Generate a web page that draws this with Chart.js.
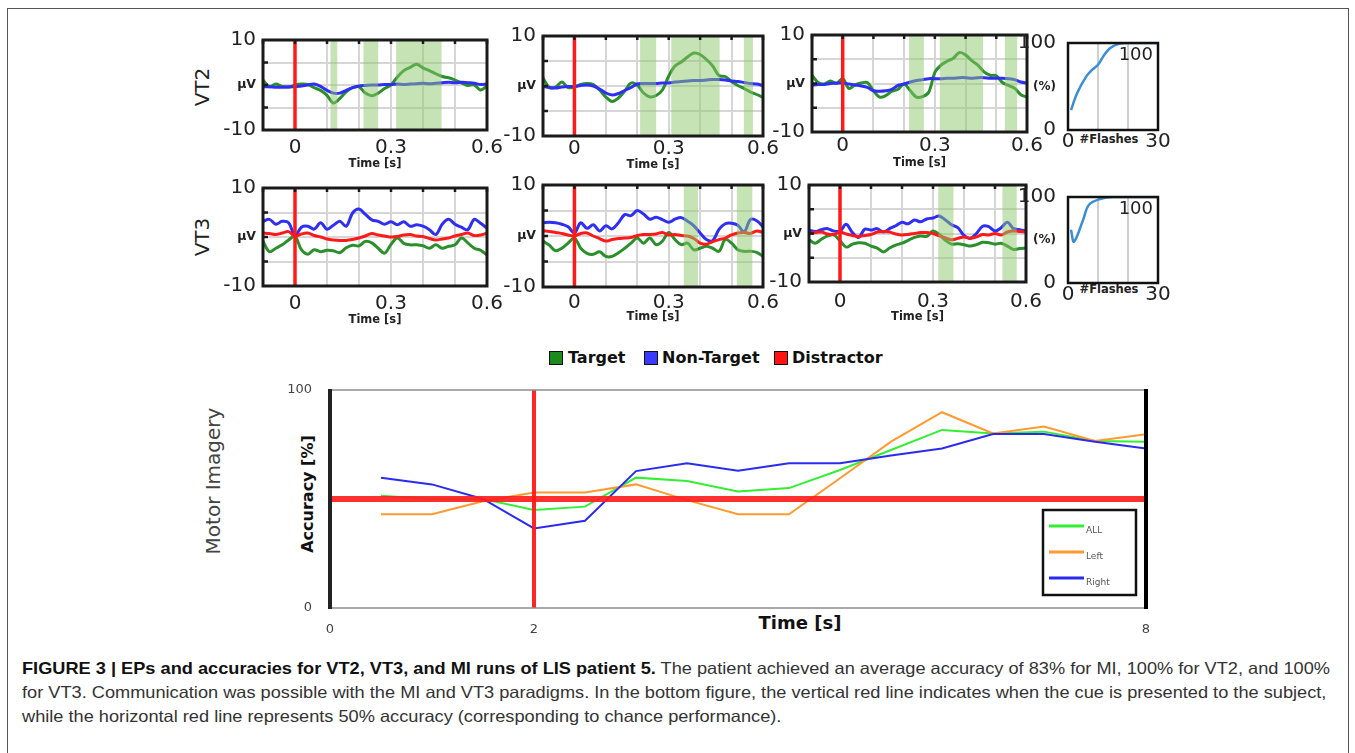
<!DOCTYPE html>
<html>
<head>
<meta charset="utf-8">
<script src="https://cdn.jsdelivr.net/npm/chart.js@4.4.0/dist/chart.umd.min.js"></script>
<style>
  html, body { margin: 0; padding: 0; background: #fff; }
  body { width: 1355px; height: 753px; position: relative; overflow: hidden; font-family: "DejaVu Sans", Verdana, sans-serif; }
  .frame { position: absolute; left: 7px; top: 8px; width: 1340px; height: 800px; border: 1px solid #555; }
  .panel { position: absolute; }
  .lbl { position: absolute; white-space: nowrap; color: #222; }
  .rot { transform: translate(-50%, -50%) rotate(-90deg); }
  .ctr { transform: translate(-50%, -50%); }
  .sq { position: absolute; width: 12px; height: 12px; border: 1.5px solid #111; }
  .leg { position: absolute; font-weight: bold; font-size: 16px; color: #111; white-space: nowrap; }
  .cap { position: absolute; left: 22px; top: 656px; font-family: "Liberation Sans", Arial, sans-serif; font-size: 16.5px; line-height: 24px; color: #333; }
  .cap .ln { display: block; width: max-content; transform-origin: 0 0; white-space: nowrap; }
  .cap b { color: #111; }
</style>
</head>
<body>
<div class="frame"></div>

<div class="lbl rot" style="left:202px;top:87px;font-size:20px;">VT2</div>
<div class="lbl rot" style="left:202px;top:237px;font-size:20px;">VT3</div>
<div class="lbl ctr" style="left:1109px;top:139px;font-size:11.5px;font-weight:bold;">#Flashes</div>
<div class="lbl ctr" style="left:1109px;top:289px;font-size:11.5px;font-weight:bold;">#Flashes</div>

<div class="sq" style="left:549px;top:351px;background:#1d8a1d;"></div>
<div class="leg" style="left:568px;top:348px;">Target</div>
<div class="sq" style="left:644px;top:351px;background:#3a3aff;"></div>
<div class="leg" style="left:662px;top:348px;">Non-Target</div>
<div class="sq" style="left:774px;top:351px;background:#ff1212;"></div>
<div class="leg" style="left:792px;top:348px;">Distractor</div>

<div class="lbl rot" style="left:213px;top:481px;font-size:20px;color:#444;">Motor Imagery</div>
<div class="lbl rot" style="left:307px;top:494px;font-size:16px;font-weight:bold;color:#111;">Accuracy [%]</div>
<div class="lbl ctr" style="left:800px;top:622px;font-size:18px;font-weight:bold;color:#111;">Time [s]</div>

<div class="cap">
  <span class="ln"><b>FIGURE 3 | EPs and accuracies for VT2, VT3, and MI runs of LIS patient 5.</b> The patient achieved an average accuracy of 83% for MI, 100% for VT2, and 100%</span>
  <span class="ln">for VT3. Communication was possible with the MI and VT3 paradigms. In the bottom figure, the vertical red line indicates when the cue is presented to the subject,</span>
  <span class="ln">while the horizontal red line represents 50% accuracy (corresponding to chance performance).</span>
</div>

<script>
// ---- EP time axis (s) ----
var eegTime = [-0.1, -0.08, -0.06, -0.04, -0.02, 0, 0.02, 0.04, 0.06, 0.08, 0.1, 0.12, 0.14, 0.16, 0.18, 0.2, 0.22, 0.24,
               0.26, 0.28, 0.3, 0.32, 0.34, 0.36, 0.38, 0.4, 0.42, 0.44, 0.46, 0.48, 0.5, 0.52, 0.54, 0.56, 0.58, 0.6];
var eegXGrid = [-0.1, 0, 0.1, 0.2, 0.3, 0.4, 0.5, 0.6];
var eegXLabelVals = [0, 0.3, 0.6];
var eegXLabelText = ['0', '0.3', '0.6'];
var eegYGrid = [-10, -5, 0, 5, 10];
var eegYLabelVals = [-10, 0, 10];
var eegYLabelText = ['-10', 'µV', '10'];
var eegCue = 0;

// ---- VT2 runs (µV) ----
var vt2aTarget    = [1.1, -0.4, 0.2, -0.3, -0.5, 0.0, 0.2, 0.1, -0.6, -1.2, -2.3, -4.0, -3.0, -1.5, -0.6, -0.4, -1.8, -2.4,
                     -1.8, -0.8, 0.0, 1.8, 3.2, 3.9, 4.6, 3.8, 3.2, 2.5, 1.9, 1.6, 1.1, 0.5, -0.1, 0.0, -1.1, -0.2];
var vt2aNonTarget = [-0.4, -0.4, -0.5, -0.5, -0.4, -0.4, -0.2, 0.0, 0.2, -0.3, -1.2, -1.8, -1.8, -1.2, -0.6, -0.2, -0.1, 0.0,
                     0.0, 0.1, 0.1, 0.2, 0.1, 0.2, 0.3, 0.4, 0.3, 0.4, 0.5, 0.6, 0.5, 0.6, 0.5, 0.4, 0.1, 0.2];
var vt2aShadeStart = [0.111, 0.214, 0.316];
var vt2aShadeEnd   = [0.132, 0.26, 0.458];

var vt2bTarget    = [1.6, -0.3, -0.2, 0.8, -0.3, -0.2, 0.3, 0.5, 0.3, -0.8, -2.2, -3.1, -2.4, -1.0, 0.6, 0.2, -1.4, -2.2,
                     -1.9, -0.8, 2.0, 4.0, 4.8, 5.8, 6.6, 6.3, 5.3, 4.0, 2.1, 1.9, 0.9, 0.1, -0.5, -1.2, -1.7, -2.3];
var vt2bNonTarget = [-0.1, -0.3, -0.4, -0.2, -0.1, -0.1, 0.1, 0.2, 0.0, -0.6, -1.4, -1.8, -1.5, -0.9, -0.3, 0.4, 0.5, 0.5,
                     0.5, 0.6, 0.6, 0.8, 0.9, 1.0, 1.1, 1.1, 1.2, 1.3, 1.3, 1.2, 1.0, 0.9, 0.7, 0.5, 0.4, 0.1];
var vt2bShadeStart = [0.209, 0.308, 0.539];
var vt2bShadeEnd   = [0.26, 0.462, 0.568];

var vt2cTarget    = [1.7, 0.2, -0.1, 0.5, 0.0, 1.0, -1.0, -0.3, 0.1, 0.2, -1.5, -2.8, -2.5, -1.6, -1.2, -0.1, -1.5, -2.8,
                     -2.7, -1.8, 2.3, 3.8, 4.6, 5.2, 6.4, 5.9, 4.7, 3.8, 2.4, 1.7, 1.6, 0.2, -0.4, -1.0, -2.3, -2.8];
var vt2cNonTarget = [-0.4, -0.2, -0.2, 0.0, 0.1, 0.1, -0.1, -0.3, -0.5, -0.8, -1.5, -1.6, -1.5, -1.2, -0.4, -0.1, 0.3, 0.6,
                     0.8, 1.0, 1.0, 1.0, 1.1, 1.1, 1.2, 1.2, 1.1, 1.2, 1.2, 1.1, 1.1, 1.1, 1.0, 0.8, 0.3, 0.1];
var vt2cShadeStart = [0.216, 0.316, 0.528];
var vt2cShadeEnd   = [0.264, 0.457, 0.568];

// ---- VT3 runs (µV) ----
var vt3aTarget     = [-0.9, -3.0, -2.3, -1.6, -0.6, 0.1, -2.6, -3.5, -2.6, -3.0, -2.7, -2.8, -3.2, -2.2, -1.7, -1.8, -0.9, -1.2,
                      -2.3, -3.3, -1.5, -0.2, -1.3, -1.6, -1.6, -1.8, -2.3, -1.6, -2.3, -1.9, -1.6, -0.2, -1.2, -2.3, -2.7, -3.7];
var vt3aNonTarget  = [3.2, 3.6, 2.6, 3.2, 2.9, 0.3, 2.0, 2.2, 1.6, 2.9, 1.6, 2.4, 3.2, 2.2, 4.9, 5.7, 4.6, 3.5,
                      3.2, 2.6, 3.1, 2.5, 3.1, 2.2, 2.5, 2.2, 1.5, 0.5, 2.6, 3.6, 2.6, 2.0, 1.5, 3.6, 2.8, 1.8];
var vt3aDistractor = [0.8, 0.7, 0.5, 0.8, 1.1, 0.1, 0.6, 0.8, 0.3, 0.0, -0.4, -0.6, -0.7, -0.7, -0.5, -0.2, 0.2, 0.7,
                      0.4, 0.2, 0.0, 0.1, 0.4, 0.5, 0.2, 0.1, -0.3, -0.6, -0.4, -0.2, 0.2, 0.5, 0.8, 0.3, 0.4, 0.8];

var vt3bTarget     = [-1.0, -1.8, -2.9, -2.4, -1.4, -0.4, -2.4, -3.4, -3.6, -3.1, -4.0, -4.0, -3.3, -2.4, -1.4, -0.4, -1.4, -0.4,
                      -1.7, -1.0, 0.7, -0.7, -1.7, -1.4, -2.7, -2.4, -2.0, -2.4, -3.0, -0.7, -1.4, -2.7, -3.0, -3.0, -3.2, -4.0];
var vt3bNonTarget  = [2.6, 2.7, 2.6, 2.3, 1.8, 0.6, 2.6, 1.5, 2.2, 1.0, 2.0, 1.4, 2.6, 4.2, 4.0, 5.0, 4.3, 3.3,
                      3.7, 3.2, 2.7, 3.3, 3.6, 2.9, 2.0, 0.6, -0.7, -0.9, 1.3, 2.4, 2.5, 2.1, 0.8, 3.2, 3.0, 1.8];
var vt3bDistractor = [1.0, 0.9, 0.7, 0.5, 0.2, 0.0, 0.5, 0.6, 0.0, -0.5, -1.0, -0.7, -0.5, -0.4, -0.3, 0.1, 0.3, 0.3,
                      0.4, 0.7, 0.2, 0.3, 0.1, 0.0, -0.5, -1.4, -1.6, -1.1, -0.7, -0.4, 0.2, 0.6, 0.7, 0.5, 1.0, 0.7];
var vt3bShadeStart = [0.348, 0.517];
var vt3bShadeEnd   = [0.393, 0.566];

var vt3cTarget     = [-1.3, -2.0, -1.2, -0.5, -0.3, -1.5, -2.8, -2.2, -1.9, -2.0, -2.6, -3.0, -3.8, -3.0, -2.4, -2.0, -1.4, -0.8,
                      -0.5, -0.6, 0.5, -0.2, -1.4, -2.2, -2.1, -2.3, -2.6, -2.3, -1.8, -1.9, -2.2, -2.0, -2.6, -3.3, -3.1, -3.0];
var vt3cNonTarget  = [0.7, 0.4, 0.8, 1.0, 0.5, 0.5, 1.9, 0.2, -0.8, 0.9, 0.7, 1.0, 0.3, 1.0, 1.6, 2.3, 2.0, 2.8,
                      2.4, 3.0, 3.2, 3.6, 2.8, 1.8, 1.2, -0.4, -1.0, 0.0, 1.5, 1.4, 0.5, 1.2, 2.3, 1.0, 0.8, 0.5];
var vt3cDistractor = [0.0, 0.2, 0.3, -0.1, -0.2, 0.3, -0.1, -0.4, -0.6, -0.4, -0.2, 0.3, 0.4, 0.3, -0.1, -0.3, -0.2, 0.0,
                      0.2, 0.2, 0.0, -0.5, -0.9, -1.3, -1.0, -0.7, -1.0, -0.7, -0.2, -0.3, 0.0, -0.3, 0.3, 0.5, 0.4, 0.3];
var vt3cShadeStart = [0.317, 0.524];
var vt3cShadeEnd   = [0.366, 0.57];

// ---- accuracy vs number of flashes (%) ----
var accXTicks = [0, 10, 20, 30];
var accXLabelText = ['0', '', '', '30'];
var accYTicks = [0, 50, 100];
var accYLabelText = ['0', '(%)', '100'];
var flashesVT2  = [1, 3, 6, 8, 10, 12, 14, 17, 21, 30];
var accuracyVT2 = [23, 42, 61, 69, 75, 86, 94, 99, 100, 100];
var flashesVT3  = [1, 2, 5, 7, 11, 15, 30];
var accuracyVT3 = [62, 48, 73, 91, 98, 100, 100];

// ---- motor imagery accuracy (%) ----
var miTime  = [0.5, 1.0, 1.5, 2.0, 2.5, 3.0, 3.5, 4.0, 4.5, 5.0, 5.5, 6.0, 6.5, 7.0, 7.5, 8.0];
var miAll   = [51.5, 50, 50, 45, 46.5, 59.8, 58.3, 53.4, 55, 63.3, 72.5, 81.7, 80.1, 80.9, 76.6, 76.3];
var miLeft  = [43, 43, 49, 53, 53, 56.7, 49.5, 43, 43, 59.5, 76.3, 89.8, 80.1, 83.2, 76.6, 79.7];
var miRight = [59.8, 56.7, 50, 36.5, 40, 62.8, 66.4, 63, 66.4, 66.4, 70, 73.2, 79.8, 79.8, 76.3, 73.2];
var miSeriesNames = ['ALL', 'Left', 'Right'];
var miXTicks = [0, 2, 8];
var miYTicks = [0, 100];
var miCue = 2;
var chanceLevel = 50;

Chart.defaults.font.family = '"DejaVu Sans", Verdana, sans-serif';
Chart.defaults.color = '#222';

var GREEN = '#2b8f2b', BLUE = '#2e2ef5', RED = '#ff1a1a';

function pts(xs, ys) {
    return xs.map(function(x, i) { return { x: x, y: ys[i] }; });
}

function near(a, b) { return Math.abs(a - b) < 1e-6; }

function labelFrom(vals, texts, v) {
    for (var i = 0; i < vals.length; i++) {
        if (near(vals[i], v)) return texts[i];
    }
    return '';
}

// borders, shaded windows, small ticks and the MI legend
var panelFrame = {
    id: 'panelFrame',
    defaults: {},
    afterDatasetsDraw: function(chart, args, opts) {
        var a = chart.chartArea, c = chart.ctx, xs = chart.scales.x;
        if (opts.shadeStart) {
            c.save();
            c.fillStyle = 'rgba(140, 200, 105, 0.5)';
            for (var i = 0; i < opts.shadeStart.length; i++) {
                var x0 = xs.getPixelForValue(opts.shadeStart[i]);
                var x1 = xs.getPixelForValue(opts.shadeEnd[i]);
                c.fillRect(x0, a.top, x1 - x0, a.bottom - a.top);
            }
            c.restore();
        }
    },
    afterDraw: function(chart, args, opts) {
        var a = chart.chartArea, c = chart.ctx;
        c.save();
        if (opts.style === 'eeg') {
            var ys = chart.scales.y, xs = chart.scales.x;
            c.strokeStyle = '#1a1a1a';
            c.lineWidth = 2.5;
            [-5, 0, 5].forEach(function(v) {
                var y = ys.getPixelForValue(v);
                c.beginPath(); c.moveTo(a.left, y); c.lineTo(a.left + 5, y); c.stroke();
            });
            eegXGrid.forEach(function(v) {
                var x = xs.getPixelForValue(v);
                c.beginPath(); c.moveTo(x, a.top); c.lineTo(x, a.top + 4); c.stroke();
            });
            c.lineWidth = 3;
            c.strokeRect(a.left, a.top, a.right - a.left, a.bottom - a.top);
        } else if (opts.style === 'acc') {
            c.strokeStyle = '#111';
            c.lineWidth = 2.5;
            c.strokeRect(a.left, a.top, a.right - a.left, a.bottom - a.top);
            var d = chart.data.datasets[0].data;
            c.fillStyle = '#222';
            c.font = '18px "DejaVu Sans", Verdana, sans-serif';
            c.textAlign = 'right';
            c.textBaseline = 'top';
            c.fillText(String(d[d.length - 1].y), a.right - 5, a.top + 3);
        } else if (opts.style === 'mi') {
            c.strokeStyle = '#8c8c8c';
            c.lineWidth = 1.5;
            c.beginPath(); c.moveTo(a.left, a.top); c.lineTo(a.right, a.top); c.stroke();
            c.beginPath(); c.moveTo(a.left, a.bottom); c.lineTo(a.right, a.bottom); c.stroke();
            c.strokeStyle = '#222';
            c.lineWidth = 4;
            c.beginPath(); c.moveTo(a.left, a.top - 1); c.lineTo(a.left, a.bottom + 1); c.stroke();
            c.strokeStyle = '#000';
            c.beginPath(); c.moveTo(a.right, a.top - 1); c.lineTo(a.right, a.bottom + 1); c.stroke();

            // legend box
            var bx = a.right - 103, by = a.bottom - 98;
            c.fillStyle = '#fff';
            c.fillRect(bx, by, 93, 85);
            c.strokeStyle = '#111';
            c.lineWidth = 2.5;
            c.strokeRect(bx, by, 93, 85);
            var k = 0;
            chart.data.datasets.forEach(function(ds) {
                if (miSeriesNames.indexOf(ds.label) < 0) return;
                var ly = by + 16 + k * 26;
                c.strokeStyle = ds.borderColor;
                c.lineWidth = 3;
                c.beginPath(); c.moveTo(bx + 6, ly); c.lineTo(bx + 41, ly); c.stroke();
                c.fillStyle = '#555';
                c.font = '9px "DejaVu Sans", Verdana, sans-serif';
                c.textAlign = 'left';
                c.textBaseline = 'middle';
                c.fillText(ds.label, bx + 43, ly + 5);
                k++;
            });
        }
        c.restore();
    }
};
Chart.register(panelFrame);

function makeChart(plot, m, config) {
    var div = document.createElement('div');
    div.className = 'panel';
    div.style.left = (plot.l - m.left) + 'px';
    div.style.top = (plot.t - m.top) + 'px';
    div.style.width = (m.left + plot.w + m.right) + 'px';
    div.style.height = (m.top + plot.h + m.bottom) + 'px';
    var cv = document.createElement('canvas');
    div.appendChild(cv);
    document.body.appendChild(div);
    config.options.responsive = true;
    config.options.maintainAspectRatio = false;
    config.options.animation = false;
    config.options.layout = { padding: { top: m.top, right: m.right, left: 0, bottom: 0 } };
    config.options.scales.x.afterFit = function(s) { s.height = m.bottom; s.paddingLeft = 0; s.paddingRight = 0; };
    config.options.scales.y.afterFit = function(s) { s.width = m.left; s.paddingTop = 0; s.paddingBottom = 0; };
    return new Chart(cv, config);
}

function lineSet(label, xs, ys, color, width, order) {
    return {
        label: label,
        data: pts(xs, ys),
        borderColor: color,
        borderWidth: width,
        pointRadius: 0,
        tension: 0.35,
        fill: false,
        order: order
    };
}

function eegChart(plot, titleGap, tickPad, sets, shStart, shEnd) {
    var datasets = [lineSet('cue', [eegCue, eegCue], [-10, 10], RED, 3.5, 0)];
    datasets[0].tension = 0;
    sets.forEach(function(s, i) {
        datasets.push(lineSet(s[0], eegTime, s[1], s[2], 3, i + 1));
    });
    return makeChart(plot, { left: 62, top: 14, right: 22, bottom: titleGap }, {
        type: 'line',
        data: { datasets: datasets },
        options: {
            plugins: {
                legend: { display: false },
                tooltip: { enabled: false },
                panelFrame: { style: 'eeg', shadeStart: shStart, shadeEnd: shEnd }
            },
            scales: {
                x: {
                    type: 'linear', min: -0.1, max: 0.6,
                    afterBuildTicks: function(s) { s.ticks = eegXGrid.map(function(v) { return { value: v }; }); },
                    grid: { color: '#d6d6d6', lineWidth: 2, drawTicks: false },
                    border: { display: false },
                    ticks: {
                        autoSkip: false, maxRotation: 0, padding: tickPad, color: '#222',
                        font: { size: 20 },
                        callback: function(v) { return labelFrom(eegXLabelVals, eegXLabelText, v); }
                    },
                    title: { display: true, text: 'Time [s]', color: '#222', font: { size: 11.5, weight: 'bold' }, padding: 0 }
                },
                y: {
                    type: 'linear', min: -10, max: 10,
                    afterBuildTicks: function(s) { s.ticks = eegYGrid.map(function(v) { return { value: v }; }); },
                    grid: { color: '#d6d6d6', lineWidth: 2, drawTicks: false },
                    border: { display: false },
                    ticks: {
                        autoSkip: false, padding: 7, color: '#222',
                        font: function(ctx) {
                            return ctx.tick && ctx.tick.value === 0 ? { size: 12.5, weight: 'bold' } : { size: 20 };
                        },
                        callback: function(v) { return labelFrom(eegYLabelVals, eegYLabelText, v); }
                    }
                }
            }
        }
    });
}

function accChart(plot, flashes, acc) {
    return makeChart(plot, { left: 52, top: 14, right: 14, bottom: 22 }, {
        type: 'line',
        data: { datasets: [lineSet('accuracy', flashes, acc, '#3a8fd4', 2.5, 0)] },
        options: {
            plugins: {
                legend: { display: false },
                tooltip: { enabled: false },
                panelFrame: { style: 'acc' }
            },
            scales: {
                x: {
                    type: 'linear', min: 0, max: 30,
                    afterBuildTicks: function(s) { s.ticks = accXTicks.map(function(v) { return { value: v }; }); },
                    grid: { color: '#d0d0d0', lineWidth: 2, drawTicks: false },
                    border: { display: false },
                    ticks: {
                        autoSkip: false, maxRotation: 0, padding: 0, color: '#222', font: { size: 20 },
                        callback: function(v, i) { return accXLabelText[i]; }
                    }
                },
                y: {
                    type: 'linear', min: 0, max: 100,
                    afterBuildTicks: function(s) { s.ticks = accYTicks.map(function(v) { return { value: v }; }); },
                    grid: { display: false },
                    border: { display: false },
                    ticks: {
                        autoSkip: false, padding: 4, color: '#222',
                        font: function(ctx) {
                            return ctx.tick && ctx.tick.value === 50 ? { size: 12, weight: 'bold' } : { size: 20 };
                        },
                        callback: function(v, i) { return accYLabelText[i]; }
                    }
                }
            }
        }
    });
}

// VT2 row
eegChart({ l: 263, t: 40, w: 224, h: 90 }, 41, 6,
    [['Non-Target', vt2aNonTarget, BLUE], ['Target', vt2aTarget, GREEN]], vt2aShadeStart, vt2aShadeEnd);
eegChart({ l: 543, t: 36, w: 220, h: 100 }, 36, 1,
    [['Non-Target', vt2bNonTarget, BLUE], ['Target', vt2bTarget, GREEN]], vt2bShadeStart, vt2bShadeEnd);
eegChart({ l: 812, t: 35, w: 215, h: 97 }, 38, 2,
    [['Non-Target', vt2cNonTarget, BLUE], ['Target', vt2cTarget, GREEN]], vt2cShadeStart, vt2cShadeEnd);
accChart({ l: 1068, t: 43, w: 90, h: 87 }, flashesVT2, accuracyVT2);

// VT3 row
eegChart({ l: 263, t: 188, w: 224, h: 98 }, 41, 6,
    [['Distractor', vt3aDistractor, RED], ['Non-Target', vt3aNonTarget, BLUE], ['Target', vt3aTarget, GREEN]], null, null);
eegChart({ l: 543, t: 185, w: 220, h: 102 }, 37, 4,
    [['Distractor', vt3bDistractor, RED], ['Non-Target', vt3bNonTarget, BLUE], ['Target', vt3bTarget, GREEN]], vt3bShadeStart, vt3bShadeEnd);
eegChart({ l: 809, t: 185, w: 217, h: 97 }, 42, 8,
    [['Distractor', vt3cDistractor, RED], ['Non-Target', vt3cNonTarget, BLUE], ['Target', vt3cTarget, GREEN]], vt3cShadeStart, vt3cShadeEnd);
accChart({ l: 1068, t: 197, w: 90, h: 86 }, flashesVT3, accuracyVT3);

// Motor imagery
var miSets = [
    lineSet('cue', [miCue, miCue], [0, 100], 'rgba(255, 25, 25, 0.95)', 4, 0),
    lineSet('chance', [0, 8], [chanceLevel, chanceLevel], 'rgba(255, 30, 30, 0.92)', 6, 1),
    lineSet(miSeriesNames[0], miTime, miAll, '#33ee33', 2, 4),
    lineSet(miSeriesNames[1], miTime, miLeft, '#ff9a30', 2, 3),
    lineSet(miSeriesNames[2], miTime, miRight, '#2b2bef', 2, 2)
];
miSets.forEach(function(d) { d.tension = 0; });

makeChart({ l: 330, t: 390, w: 816, h: 218 }, { left: 45, top: 12, right: 20, bottom: 30 }, {
    type: 'line',
    data: { datasets: miSets },
    options: {
        plugins: {
            legend: { display: false },
            tooltip: { enabled: false },
            panelFrame: { style: 'mi' }
        },
        scales: {
            x: {
                type: 'linear', min: 0, max: 8,
                afterBuildTicks: function(s) { s.ticks = miXTicks.map(function(v) { return { value: v }; }); },
                grid: { display: false },
                border: { display: false },
                ticks: { autoSkip: false, maxRotation: 0, padding: 6, color: '#444', font: { size: 13 } }
            },
            y: {
                type: 'linear', min: 0, max: 100,
                afterBuildTicks: function(s) { s.ticks = miYTicks.map(function(v) { return { value: v }; }); },
                grid: { display: false },
                border: { display: false },
                ticks: { autoSkip: false, padding: 10, color: '#444', font: { size: 13 } }
            }
        }
    }
});

// squeeze the caption lines to the original column width
(function() {
    var lines = document.querySelectorAll('.cap .ln');
    var w = lines[0].getBoundingClientRect().width;
    var k = 1308 / w;
    for (var i = 0; i < lines.length; i++) {
        lines[i].style.transform = 'scaleX(' + k + ')';
    }
})();
</script>
</body>
</html>
